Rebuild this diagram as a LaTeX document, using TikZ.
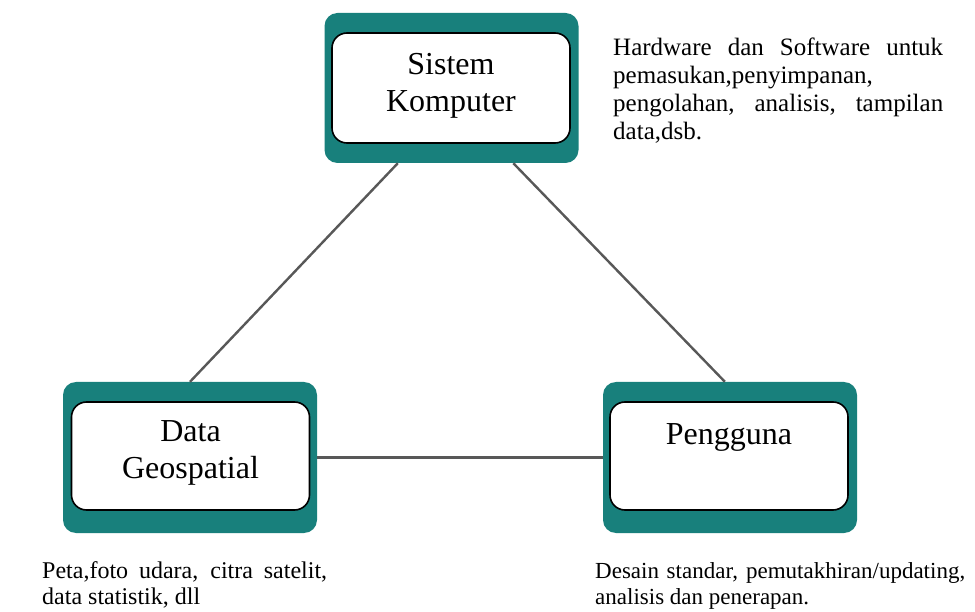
\documentclass[tikz,border=0pt]{standalone}
\usepackage{fontspec}
\setmainfont{Liberation Serif}
\usetikzlibrary{calc}
\definecolor{tealbox}{RGB}{24,128,124}
\definecolor{linkgray}{RGB}{88,88,88}
\tikzset{
  outerbox/.style={rectangle, rounded corners=13pt, fill=tealbox, draw=none, inner sep=0pt, minimum width=254pt, minimum height=151pt},
  innerbox/.style={rectangle, rounded corners=15pt, fill=white, draw=black, line width=1.6pt, inner sep=0pt, minimum width=238pt, minimum height=108pt},
  boxlabel/.style={inner sep=0pt, align=center, font=\fontsize{32}{37}\selectfont},
  desc/.style={inner sep=0pt, align=left, anchor=north west},
  link/.style={draw=linkgray, line width=2.4pt}
}
\begin{document}
\begin{tikzpicture}[x=1pt,y=-1pt]
\useasboundingbox[fill=white] (0,0) rectangle (975,612);
% boxes
\node[outerbox, minimum height=150pt] (sk) at (451.5,88) {};
\node[innerbox, minimum height=110pt] (ski) at (451,88) {};
\node[outerbox] (dg) at (190,457.5) {};
\node[innerbox] (dgi) at (190.5,456) {};
\node[outerbox] (pg) at (730,457.5) {};
\node[innerbox] (pgi) at (729,456) {};
% labels
\node[boxlabel, anchor=north] (skl) at (451,53) {Sistem\\Komputer};
\node[boxlabel, anchor=north] (dgl) at (190.5,420) {Data\\Geospatial};
\node[boxlabel, anchor=north] (pgl) at (729,423) {Pengguna};
% connectors
\coordinate (skA) at ($(sk.south west)!0.289!(sk.south east)$);
\coordinate (skB) at ($(sk.south west)!0.743!(sk.south east)$);
\coordinate (dgT) at ($(dg.north west)!0.5!(dg.north east)$);
\coordinate (pgT) at ($(pg.north west)!0.48!(pg.north east)$);
\draw[link] (skA) -- (dgT);
\draw[link] (skB) -- (pgT);
\draw[link] (dg.east) -- (pg.west);
% descriptions
\node[desc, font=\fontsize{25}{28}\selectfont] (d1) at (613,38) {\makebox[330pt][s]{Hardware dan Software untuk}\\pemasukan,penyimpanan,\\\makebox[330pt][s]{pengolahan, analisis, tampilan}\\data,dsb.};
\node[desc, font=\fontsize{24}{26}\selectfont] (d2) at (42,561) {\makebox[285pt][s]{Peta,foto udara, citra satelit,}\\data statistik, dll};
\node[desc, font=\fontsize{23}{26}\selectfont] (d3) at (595,562) {\makebox[370pt][s]{Desain standar, pemutakhiran/updating,}\\analisis dan penerapan.};
\end{tikzpicture}
\end{document}
